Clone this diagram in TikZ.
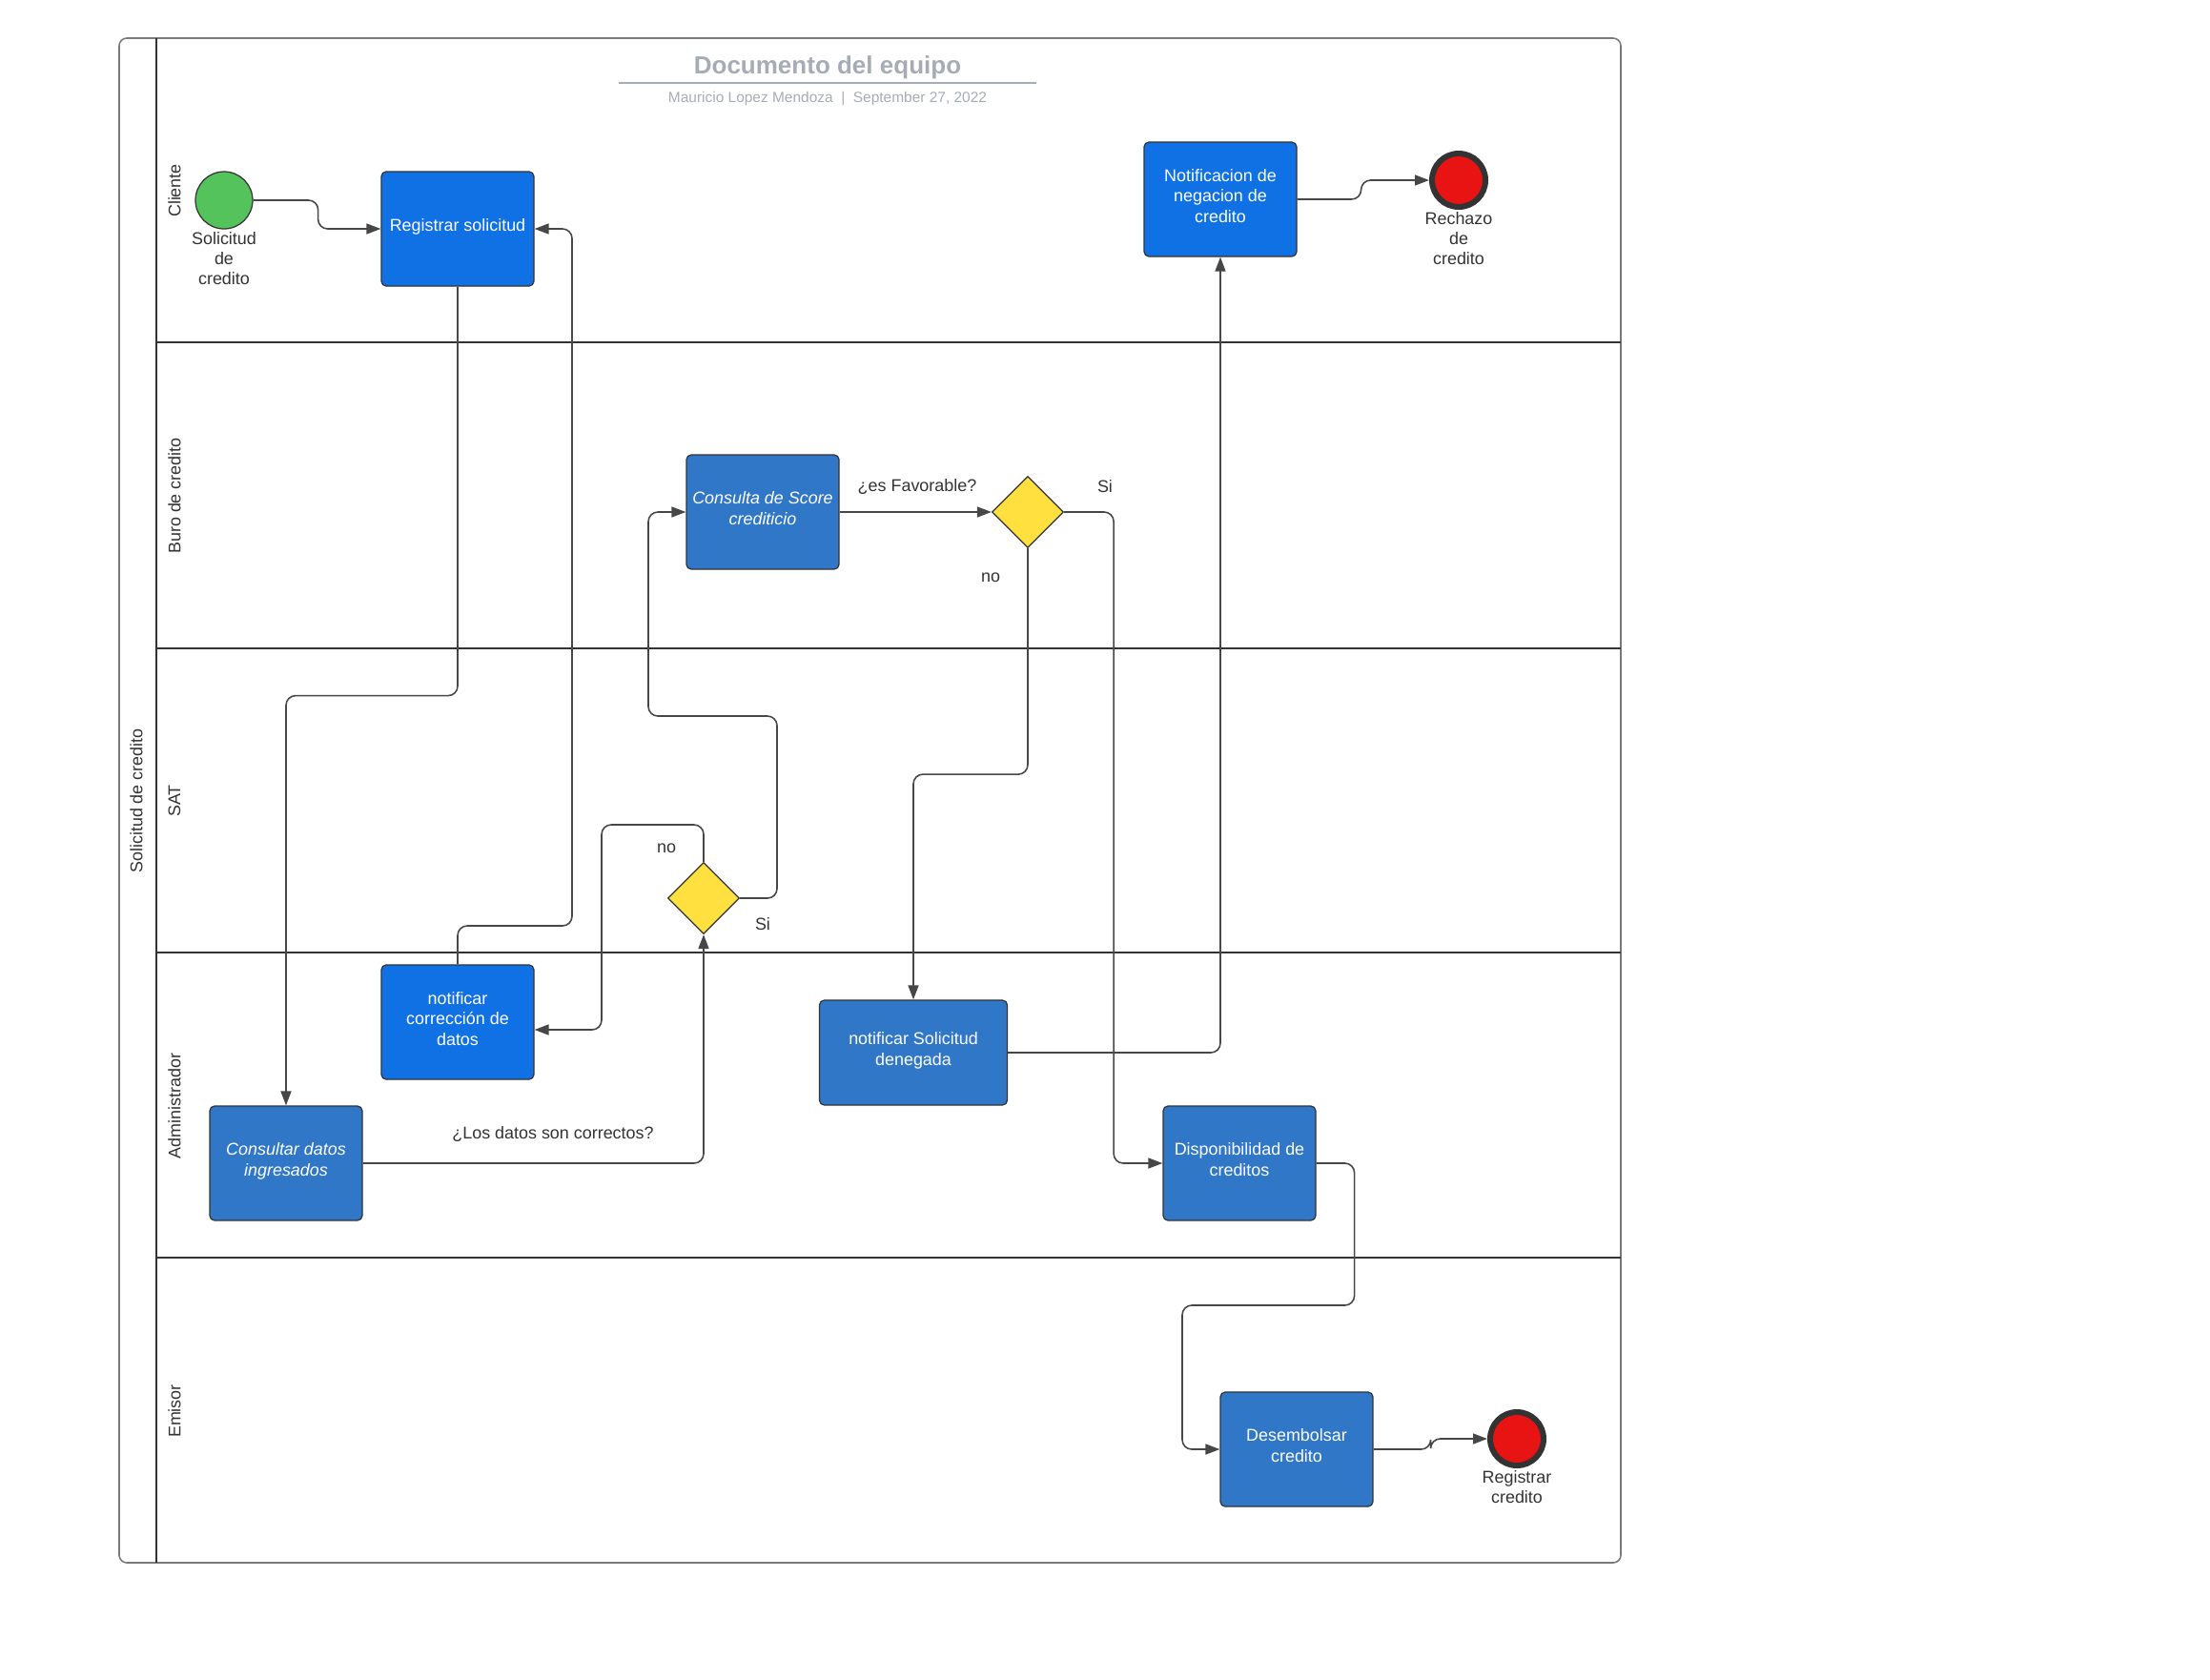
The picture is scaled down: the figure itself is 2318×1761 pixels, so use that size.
\documentclass[tikz,border=0pt]{standalone}
\usepackage{fontspec}
\setmainfont{Liberation Sans}
\usetikzlibrary{arrows.meta, positioning, calc, shapes.geometric}

\definecolor{azulvivo}{HTML}{1071E5}
\definecolor{azul}{HTML}{3177C8}
\definecolor{amarillo}{HTML}{FFE03F}
\definecolor{verde}{HTML}{55C35C}
\definecolor{rojo}{HTML}{E81313}
\definecolor{tinta}{HTML}{333333}
\definecolor{gristitulo}{HTML}{A6ACB6}
\definecolor{marco}{HTML}{7A7A7A}

\newcommand{\letra}{\fontsize{5.1}{6.1}\selectfont}

\tikzset{
  tarea/.style={draw=tinta, line width=0.35pt, rounded corners=0.5mm, minimum width=16mm,
    minimum height=12mm, text=white, align=center, inner sep=0pt, text depth=2.2pt},
  decision/.style={diamond, draw=tinta, line width=0.35pt, fill=amarillo, minimum width=7.5mm,
    minimum height=7.5mm, inner sep=0pt},
  inicio/.style={circle, draw=tinta, line width=0.35pt, fill=verde, minimum size=6mm, inner sep=0pt},
  fin/.style={circle, draw=tinta, line width=0.6mm, fill=rojo, minimum size=5.6mm, inner sep=0pt},
  etiqueta/.style={align=center, inner sep=0pt},
  carril/.style={rotate=90, inner sep=0pt},
  flujo/.style={draw=tinta!90, line width=0.45pt, rounded corners=1mm,
    -{Triangle[length=1.5mm, width=1.1mm]}},
  separador/.style={draw=tinta, line width=0.45pt}
}

\begin{document}
\begin{tikzpicture}[x=0.1mm, y=-0.1mm, every node/.style={font=\letra, text=tinta}]
  \useasboundingbox (0,0) rectangle (2318,1761);

  % Marco y carriles
  \draw[marco, line width=0.45pt, rounded corners=0.8mm] (125,40) rectangle (1700,1639);
  \draw[separador] (164,40) -- (164,1639);
  \draw[separador] (164,359) -- (1700,359);
  \draw[separador] (164,680) -- (1700,680);
  \draw[separador] (164,999) -- (1700,999);
  \draw[separador] (164,1319) -- (1700,1319);
  \node[carril] (proceso) at (143,840) {Solicitud de credito};
  \node[carril] (cliente) at (183,200) {Cliente};
  \node[carril] (buro) at (183,520) {Buro de credito};
  \node[carril] (sat) at (183,840) {SAT};
  \node[carril] (admin) at (183,1160) {Administrador};
  \node[carril] (emisor) at (183,1480) {Emisor};

  % Titulo
  \node[anchor=base, text=gristitulo, font=\bfseries\fontsize{7.4}{8}\selectfont] (titulo) at (868,77) {Documento del equipo};
  \draw[gristitulo, line width=0.6pt] (649,87) -- (1087,87);
  \node[anchor=base, text=gristitulo, font=\fontsize{4.4}{5}\selectfont] (autor) at (868,107) {Mauricio Lopez Mendoza \ | \ September 27, 2022};

  % Cliente
  \node[inicio] (ini) at (235,210) {};
  \node[etiqueta, below=0.5pt of ini] (inilbl) {Solicitud\\de\\credito};
  \node[tarea, fill=azulvivo] (reg) at (480,240) {Registrar solicitud};
  \node[tarea, fill=azulvivo] (neg) at (1280,209) {Notificacion de\\negacion de\\credito};
  \node[fin] (rech) at (1530,189) {};
  \node[etiqueta, below=0.4pt of rech] (rechlbl) {Rechazo\\de\\credito};

  % Buro de credito
  \node[tarea, fill=azul, font=\letra\itshape] (score) at (800,537) {Consulta de Score\\crediticio};
  \node[decision] (fav) at (1078,537) {};
  \node (lfav) at (962,511) {¿es Favorable?};
  \node (lfavsi) at (1159,510) {Si};
  \node (lfavno) at (1039,606) {no};

  % SAT
  \node[decision] (ok) at (738,942) {};
  \node (loksi) at (800,969) {Si};
  \node (lokno) at (699,890) {no};

  % Administrador
  \node[tarea, fill=azulvivo] (corr) at (480,1072) {notificar\\corrección de\\datos};
  \node[tarea, fill=azul, font=\letra\itshape] (datos) at (300,1220) {Consultar datos\\ingresados};
  \node (ldatos) at (580,1190) {¿Los datos son correctos?};
  \node[tarea, fill=azul, minimum width=19.7mm, minimum height=11mm] (den) at (958,1104) {notificar Solicitud\\denegada};
  \node[tarea, fill=azul] (disp) at (1300,1220) {Disponibilidad de\\creditos};

  % Emisor
  \node[tarea, fill=azul] (des) at (1360,1520) {Desembolsar\\credito};
  \node[fin] (regc) at (1591,1509) {};
  \node[etiqueta, below=0.4pt of regc] (regclbl) {Registrar\\credito};

  % Flujos
  \draw[flujo] (ini.east) -- ++(68,0) |- (reg.west);
  \draw[flujo] (reg.south) -- ++(0,429) -| (datos.north);
  \draw[flujo] (datos.east) -| (ok.south);
  \draw[flujo] (ok.north) |- (631,865) |- ($(corr.east)+(0,8)$);
  \draw[flujo] (corr.north) |- (600,971) |- (reg.east);
  \draw[flujo] (ok.east) -| (815,751) -| (680,537) -- (score.west);
  \draw[flujo] (score.east) -- (fav.west);
  \draw[flujo] (fav.south) -- ++(0,237) -| (den.north);
  \draw[flujo] (fav.east) -- ++(52,0) |- (disp.west);
  \draw[flujo] (den.east) -| (neg.south);
  \draw[flujo] (neg.east) -- ++(67,0) |- (rech.west);
  \draw[flujo] (disp.east) -- ++(40,0) |- (1240,1369) |- (des.west);
  \draw[flujo] (des.east) -- ++(60,0) |- (regc.west);
\end{tikzpicture}
\end{document}
